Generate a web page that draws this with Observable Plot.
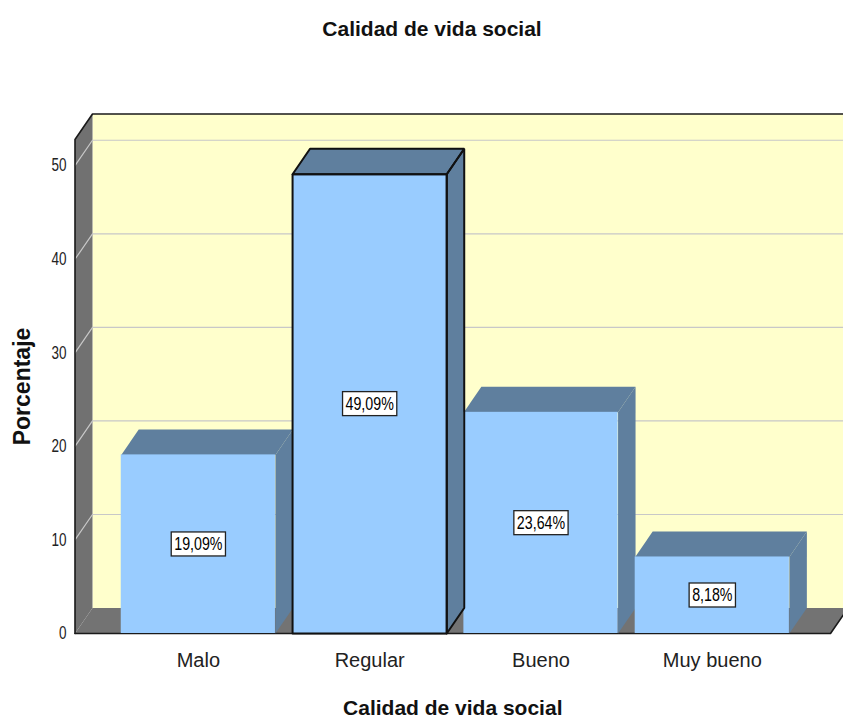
<!DOCTYPE html>
<html><head><meta charset="utf-8">
<script src="https://cdn.jsdelivr.net/npm/d3@7"></script>
<script src="https://cdn.jsdelivr.net/npm/@observablehq/plot@0.6"></script>
<style>
html,body{margin:0;padding:0;background:#fff;overflow:hidden;width:843px;height:720px;}
#title{height:56px;position:relative;font:bold 21px "Liberation Sans",Arial,sans-serif;color:#111;}
#title span{position:absolute;left:432px;top:17px;transform:translateX(-50%);white-space:nowrap;line-height:24px;}
#chart svg{display:block;overflow:hidden;}
</style></head><body>
<div id="title"><span>Calidad de vida social</span></div>
<div id="chart"></div>
<script>
// ---- data ----
const categories = ["Malo", "Regular", "Bueno", "Muy bueno"];
const values = [19.09, 49.09, 23.64, 8.18];
const valueLabels = ["19,09%", "49,09%", "23,64%", "8,18%"];
const yTicks = [0, 10, 20, 30, 40, 50];
const gridValues = [10, 20, 30, 40, 50];
const xTitle = "Calidad de vida social";
const yTitle = "Porcentaje";
const highlighted = "Regular";

// ---- layout (3D look) ----
const H = 0.45, DX = 0.102, DY = 2.72, WL = -0.72, WR = 3.69, WT = 52.8, XEND = 4.3;

const bars = categories.map((c, i) => ({i, c, v: values[i], label: valueLabels[i]}));
const poly = (id, pts) => pts.concat([pts[0]]).map(([x, y]) => ({id, x, y}));

const topFaces = bars.flatMap(b => poly(b.c, [[b.i - H, b.v], [b.i + H, b.v], [b.i + H + DX, b.v + DY], [b.i - H + DX, b.v + DY]]));
const sideFaces = bars.flatMap(b => poly(b.c, [[b.i + H, 0], [b.i + H + DX, DY], [b.i + H + DX, b.v + DY], [b.i + H, b.v]]));
const hb = bars.filter(b => b.c === highlighted);
const hlOutline = hb.flatMap(b => [
  ...poly(b.c + "f", [[b.i - H, 0], [b.i + H, 0], [b.i + H, b.v], [b.i - H, b.v]]),
  ...poly(b.c + "t", [[b.i - H, b.v], [b.i + H, b.v], [b.i + H + DX, b.v + DY], [b.i - H + DX, b.v + DY]]),
  ...poly(b.c + "s", [[b.i + H, 0], [b.i + H + DX, DY], [b.i + H + DX, b.v + DY], [b.i + H, b.v]])
]);

const backWall = poly("back", [[WL + DX, DY], [XEND, DY], [XEND, WT + DY], [WL + DX, WT + DY]]);
const leftWall = poly("left", [[WL, 0], [WL, WT], [WL + DX, WT + DY], [WL + DX, DY]]);
const floor = poly("floor", [[WL, 0], [WR, 0], [WR + DX, DY], [WL + DX, DY]]);
const grid = gridValues.flatMap(t => [[WL, t], [WL + DX, t + DY], [XEND, t + DY]].map(([x, y]) => ({id: t, x, y})));
const edgeA = [[WL, 0], [WL, WT], [WL + DX, WT + DY], [XEND, WT + DY]].map(([x, y]) => ({id: "a", x, y}));
const edgeB = [[WL, 0], [WR, 0], [WR + DX, DY]].map(([x, y]) => ({id: "b", x, y}));

const chart = Plot.plot({
  width: 843, height: 664,
  marginTop: 83, marginBottom: 87, marginLeft: 74.5, marginRight: 13,
  x: {domain: [WL, WR], axis: null},
  y: {domain: [0, WT], axis: null},
  style: {fontFamily: "'Liberation Sans', Arial, sans-serif", background: "white", overflow: "hidden"},
  marks: [
    Plot.line(backWall, {x: "x", y: "y", z: "id", fill: "#ffffcc", stroke: "none"}),
    Plot.line(leftWall, {x: "x", y: "y", z: "id", fill: "#717171", stroke: "none"}),
    Plot.line(floor, {x: "x", y: "y", z: "id", fill: "#737373", stroke: "none"}),
    Plot.line(grid, {x: "x", y: "y", z: "id", stroke: "#c8c8c8", strokeWidth: 1.2}),
    Plot.line(edgeA, {x: "x", y: "y", z: "id", stroke: "#1a1a1a", strokeWidth: 1.6}),
    Plot.line(edgeB, {x: "x", y: "y", z: "id", stroke: "#1a1a1a", strokeWidth: 1.6}),
    Plot.line(sideFaces, {x: "x", y: "y", z: "id", fill: "#5f7f9e", stroke: "none"}),
    Plot.line(topFaces, {x: "x", y: "y", z: "id", fill: "#5f7f9e", stroke: "none"}),
    Plot.rect(bars, {x1: d => d.i - H, x2: d => d.i + H, y1: 0, y2: "v", fill: "#99ccff"}),
    Plot.line(hlOutline, {x: "x", y: "y", z: "id", stroke: "#111", strokeWidth: 2, strokeLinejoin: "miter"}),
    Plot.text(bars, {x: "i", y: d => d.v / 2, text: "label", fontSize: 18, fill: "#000", ariaDescription: "value-labels"}),
    Plot.text(yTicks, {y: d => d, frameAnchor: "left", dx: -8.5, textAnchor: "end", lineAnchor: "middle", fontSize: 18, fill: "#222", ariaDescription: "y-ticks"}),
    Plot.text(categories, {x: (d, i) => i, frameAnchor: "bottom", lineAnchor: "middle", dy: 27, fontSize: 20, fill: "#222"}),
    Plot.text([xTitle], {frameAnchor: "bottom", lineAnchor: "middle", dy: 75, fontSize: 21, fontWeight: "bold", fill: "#111"}),
    Plot.text([yTitle], {frameAnchor: "left", textAnchor: "middle", lineAnchor: "middle", dx: -52.5, rotate: -90, fontSize: 23, fontWeight: "bold", fill: "#111"})
  ]
});
document.getElementById("chart").appendChild(chart);

// narrow the small texts horizontally (textLength) and put white boxes behind the value labels
function squeeze(t, s) {
  const w = t.getComputedTextLength();
  t.setAttribute("textLength", (w * s).toFixed(2));
  t.setAttribute("lengthAdjust", "spacingAndGlyphs");
}
document.querySelectorAll('g[aria-description="y-ticks"] text').forEach(t => squeeze(t, 0.75));
document.querySelectorAll('g[aria-description="value-labels"] text').forEach(t => {
  squeeze(t, 0.79);
  const bb = t.getBBox();
  const r = document.createElementNS("http://www.w3.org/2000/svg", "rect");
  r.setAttribute("x", bb.x - 3);
  r.setAttribute("y", bb.y - 2);
  r.setAttribute("width", bb.width + 6);
  r.setAttribute("height", bb.height + 4);
  r.setAttribute("fill", "#fff");
  r.setAttribute("stroke", "#222");
  r.setAttribute("stroke-width", "1.3");
  const tr = t.getAttribute("transform");
  if (tr) r.setAttribute("transform", tr);
  t.parentNode.insertBefore(r, t);
});
</script>
</body></html>
